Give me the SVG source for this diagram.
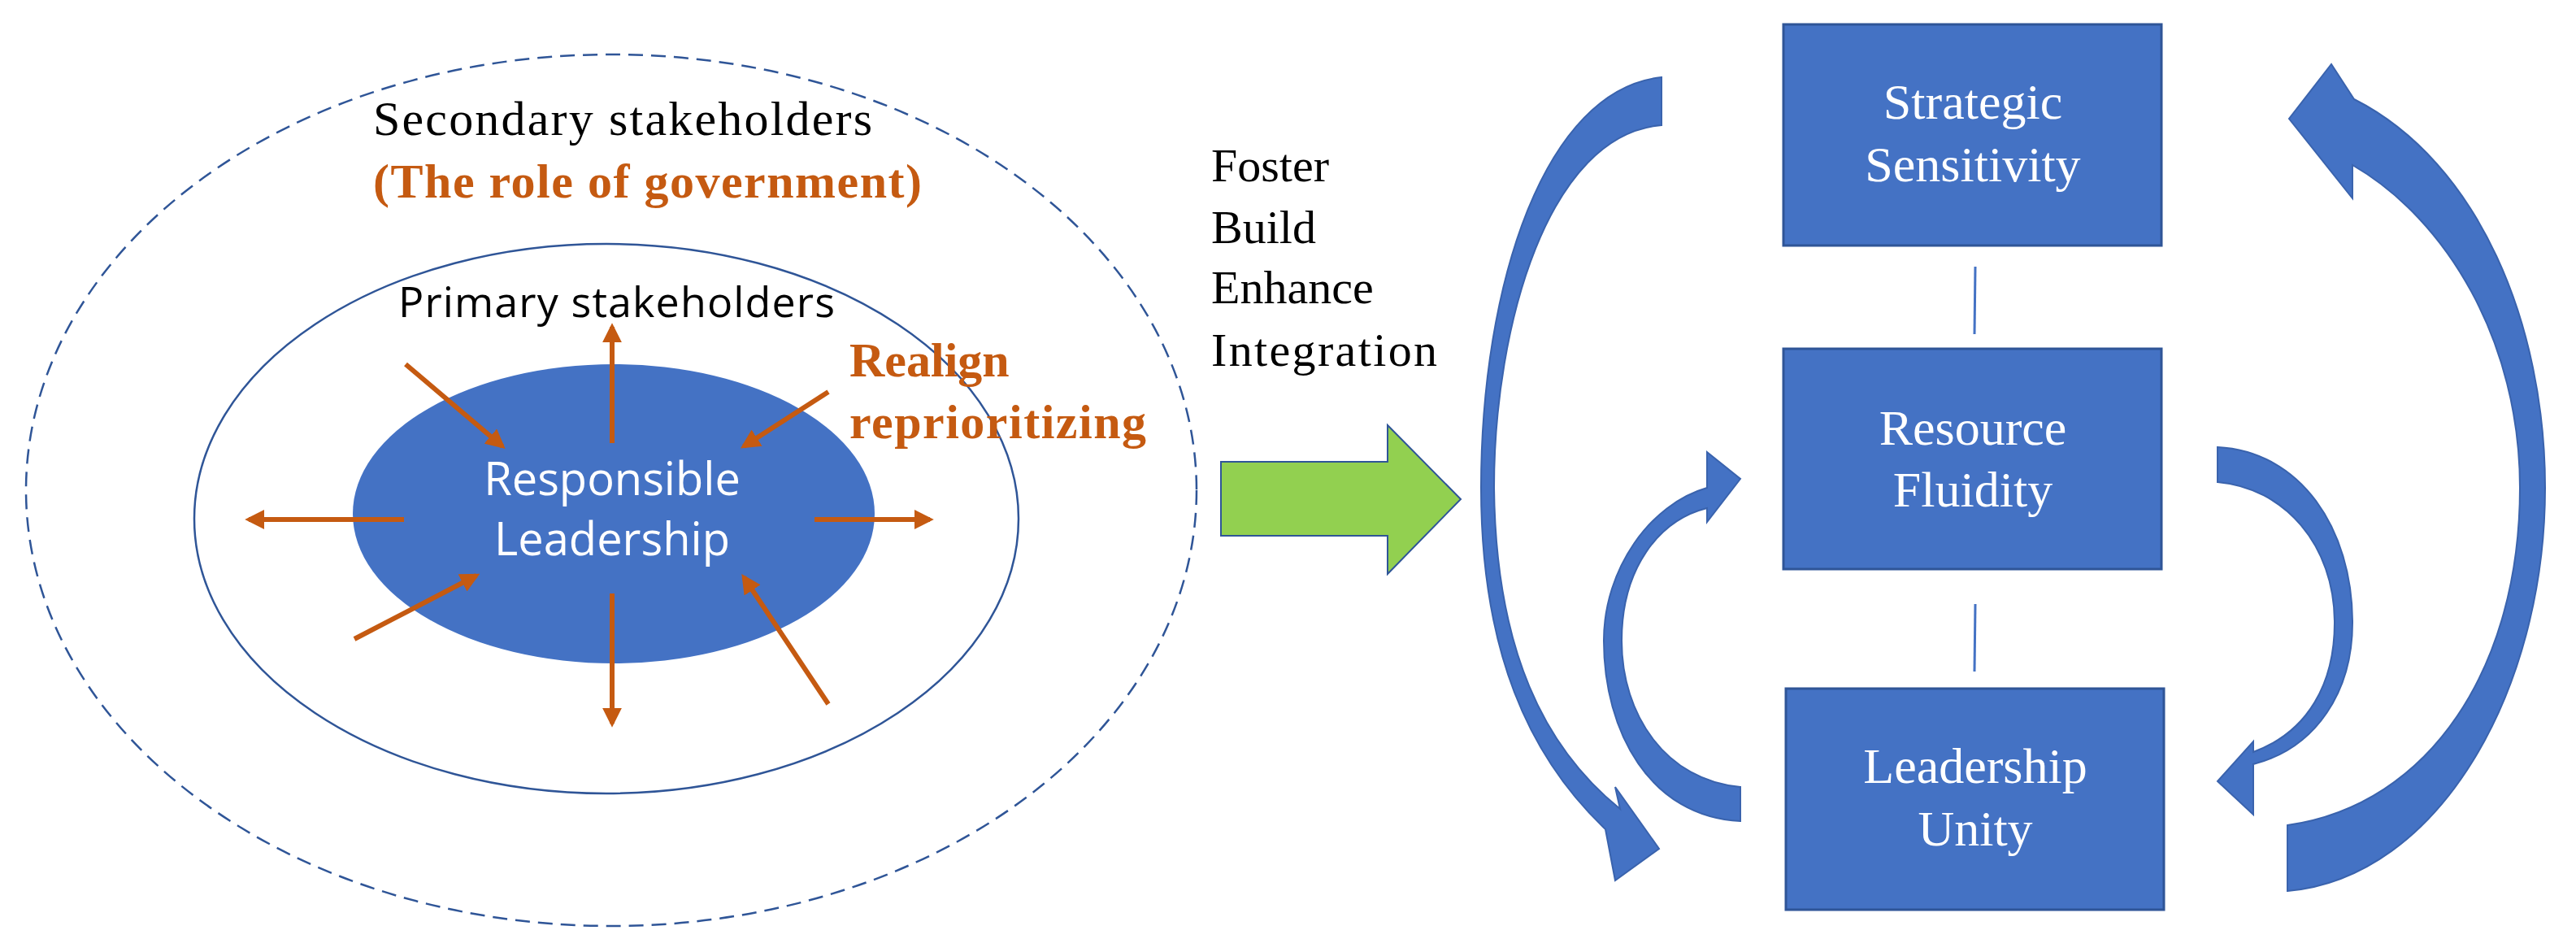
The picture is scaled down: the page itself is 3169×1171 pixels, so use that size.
<svg xmlns="http://www.w3.org/2000/svg" width="3169" height="1171" viewBox="0 0 3169 1171">
<style>
.serif{font-family:"Liberation Serif",serif}
.sans{font-family:"Open Sans","Liberation Sans",sans-serif}
.or{stroke:#C55A11;stroke-width:6;fill:none}
.box{fill:#4472C4;stroke:#2F5597;stroke-width:3}
.bt{font-family:"Liberation Serif",serif;font-size:62px;fill:#fff;text-anchor:middle}
.ca{fill:#4472C4;stroke:#3A63AD;stroke-width:2}
</style>
<defs>
<marker id="oa" viewBox="0 0 10 10" refX="8" refY="5" markerWidth="4" markerHeight="4" orient="auto"><path d="M0,0 L10,5 L0,10 Z" fill="#C55A11"/></marker>
<linearGradient id="g1" x1="0" y1="0" x2="1" y2="1"><stop offset="0" stop-color="#2F5597"/><stop offset="0.4" stop-color="#4472C4"/><stop offset="1" stop-color="#4472C4"/></linearGradient>
<linearGradient id="g2" x1="0" y1="1" x2="0" y2="0"><stop offset="0" stop-color="#2F5597"/><stop offset="0.5" stop-color="#4472C4"/></linearGradient>
</defs>
<g id="outer">
<ellipse cx="752" cy="603" rx="720" ry="536" fill="none" stroke="#2F5597" stroke-width="2.5" stroke-dasharray="18,10"/>
<text class="serif" x="459" y="166" font-size="60" textLength="614">Secondary  stakeholders</text>
<text class="serif" x="459" y="243" font-size="60" font-weight="bold" fill="#C55A11" textLength="675">(The role of government)</text>
</g>
<g id="inner">
<ellipse cx="746" cy="638" rx="507" ry="338" fill="none" stroke="#2F5597" stroke-width="2.5"/>
<text class="sans" x="490" y="390" font-size="52" textLength="537">Primary stakeholders</text>
</g>
<g id="core">
<ellipse cx="755" cy="632" rx="321" ry="184" fill="#4472C4"/>
<text class="sans" x="753" y="609" font-size="56" fill="#fff" text-anchor="middle">Responsible</text>
<text class="sans" x="753" y="683" font-size="56" fill="#fff" text-anchor="middle">Leadership</text>
</g>
<g id="realign">
<text class="serif" x="1045" y="463" font-size="60" font-weight="bold" fill="#C55A11">Realign</text>
<text class="serif" x="1045" y="539" font-size="60" font-weight="bold" fill="#C55A11" textLength="365">reprioritizing</text>
</g>
<g id="orange-arrows">
<line class="or" x1="753" y1="545" x2="753" y2="402" marker-end="url(#oa)"/>
<line class="or" x1="753" y1="730" x2="753" y2="890" marker-end="url(#oa)"/>
<line class="or" x1="497" y1="639" x2="306" y2="639" marker-end="url(#oa)"/>
<line class="or" x1="1002" y1="639" x2="1144" y2="639" marker-end="url(#oa)"/>
<line class="or" x1="499" y1="448" x2="618" y2="549" marker-end="url(#oa)"/>
<line class="or" x1="1019" y1="482" x2="915" y2="549" marker-end="url(#oa)"/>
<line class="or" x1="436" y1="786" x2="586" y2="708" marker-end="url(#oa)"/>
<line class="or" x1="1019" y1="866" x2="915" y2="710" marker-end="url(#oa)"/>
</g>
<g id="verbs" class="serif" font-size="58">
<text x="1490" y="223">Foster</text>
<text x="1490" y="299">Build</text>
<text x="1490" y="373">Enhance</text>
<text x="1490" y="450" textLength="278">Integration</text>
</g>
<g id="green-arrow">
<path d="M1502,568 L1707,568 L1707,523 L1797,614 L1707,706 L1707,659 L1502,659 Z" fill="#92D050" stroke="#2F5597" stroke-width="2"/>
</g>
<g id="strategic"><rect class="box" x="2194" y="30" width="465" height="272"/>
<text class="bt" x="2427" y="146">Strategic</text><text class="bt" x="2427" y="223">Sensitivity</text></g>
<g id="resource"><rect class="box" x="2194" y="429" width="465" height="271"/>
<text class="bt" x="2427" y="547">Resource</text><text class="bt" x="2427" y="623">Fluidity</text></g>
<g id="unity"><rect class="box" x="2197" y="847" width="465" height="272"/>
<text class="bt" x="2430" y="963">Leadership</text><text class="bt" x="2430" y="1040">Unity</text></g>
<g id="connectors">
<line x1="2430" y1="328" x2="2429" y2="411" stroke="#4472C4" stroke-width="3"/>
<line x1="2430" y1="743" x2="2429" y2="826" stroke="#4472C4" stroke-width="3"/>
<path class="ca" fill="url(#g1)" d="M2044,95 C1900,110 1822,350 1822,600 C1822,800 1880,930 1975,1020 L1987,1083 L2041,1044 L1987,968 L1993,995 C1900,920 1840,800 1838,600 C1838,400 1905,165 2044,154 Z"/>
<path class="ca" fill="url(#g2)" d="M2814,1015 C2990,990 3100,820 3100,600 C3100,420 3010,270 2894,203 L2894,244 L2816,146 L2868,79 L2896,122 C3050,200 3131,400 3131,600 C3131,850 3000,1080 2814,1096 Z"/>
<path class="ca" d="M2141,1010 C2030,1005 1973,900 1973,788 C1973,700 2030,620 2100,600 L2100,556 L2141,589 L2100,642 L2100,625 C2040,640 1995,700 1995,788 C1995,880 2050,960 2141,968 Z"/>
<path class="ca" d="M2728,550 C2830,555 2894,650 2894,766 C2894,850 2850,920 2772,940 L2772,1002 L2728,961 L2772,912 L2772,925 C2840,900 2872,840 2872,766 C2872,670 2810,600 2728,593 Z"/>
</g>
</svg>
